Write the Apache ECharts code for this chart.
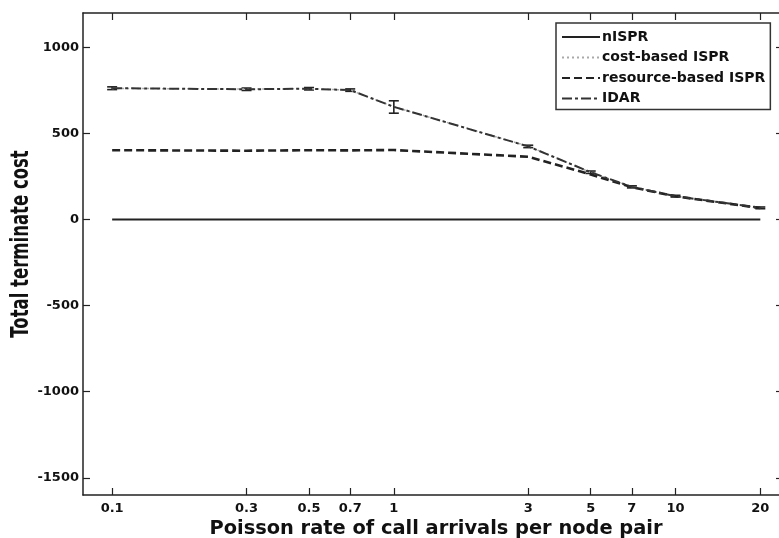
<!DOCTYPE html>
<html>
<head>
<meta charset="utf-8">
<script src="https://cdn.jsdelivr.net/npm/echarts@6/dist/echarts.min.js"></script>
<style>
  html, body { margin: 0; padding: 0; background: #fff; }
  #chart { width: 779px; height: 538px; }
</style>
</head>
<body>
<div id="chart"></div>
<script>
// Poisson arrival rates (x) and the terminate cost of each routing scheme
const rates = [0.1, 0.3, 0.5, 0.7, 1, 3, 5, 7, 10, 20];
const nISPR = [0, 0, 0, 0, 0, 0, 0, 0, 0, 0];
const costISPR = [762, 758, 760, 752, 655, 426, 274, 190, 136, 68];
const resourceISPR = [403, 400, 403, 402, 404, 365, 262, 188, 135, 67];
const idar = [763, 757, 760, 752, 655, 425, 275, 190, 136, 68];
// spread of the IDAR runs at each rate
const idarLow = [755, 750, 753, 745, 618, 418, 268, 184, 131, 63];
const idarHigh = [771, 764, 767, 759, 690, 432, 282, 196, 141, 73];

const xTicks = [0.1, 0.3, 0.5, 0.7, 1, 3, 5, 7, 10, 20];
const yTicks = [-1500, -1000, -500, 0, 500, 1000];

const font = '"DejaVu Sans", Verdana, sans-serif';
const pair = (ys) => rates.map((x, i) => [x, ys[i]]);

const chart = echarts.init(document.getElementById('chart'));

const axisLine = { show: true, onZero: false, lineStyle: { color: '#222', width: 1.5 } };
const tickStyle = { color: '#222', width: 1.2 };
const xMin = 0.0788, xMax = 23.3;

chart.setOption({
  animation: false,
  backgroundColor: '#fff',
  grid: { left: 83, top: 13, right: 0, bottom: 43, show: false, containLabel: false, outerBoundsMode: 'none' },
  // vertical axis title, widened across its stroke direction
  graphic: [{
    type: 'text',
    x: 22, y: 244,
    rotation: Math.PI / 2,
    scaleY: 1.45,
    style: {
      text: 'Total terminate cost',
      font: 'bold 16.5px ' + font,
      fill: '#111',
      align: 'center',
      verticalAlign: 'middle'
    }
  }],
  legend: {
    orient: 'vertical',
    left: 556,
    top: 23,
    backgroundColor: '#fff',
    borderColor: '#333',
    borderWidth: 1.5,
    borderRadius: 0,
    padding: [7, 5, 4, 5],
    itemWidth: 38,
    itemHeight: 14,
    itemGap: 6.5,
    itemStyle: { opacity: 0 },
    textStyle: { fontFamily: font, fontWeight: 'bold', fontSize: 14, color: '#111', padding: [0, 0, 0, -3] },
    data: ['nISPR', 'cost-based ISPR', 'resource-based ISPR', 'IDAR']
  },
  xAxis: [
    {
      type: 'log', logBase: 10, min: xMin, max: xMax,
      name: 'Poisson rate of call arrivals per node pair',
      nameLocation: 'middle', nameGap: 21,
      nameTextStyle: { fontFamily: font, fontWeight: 'bold', fontSize: 19.4, color: '#111', padding: [0, 0, 0, 10] },
      axisLine,
      axisTick: { show: true, inside: true, length: 7, lineStyle: tickStyle, customValues: xTicks },
      axisLabel: {
        show: true, customValues: xTicks, margin: 7,
        fontFamily: font, fontWeight: 'bold', fontSize: 13, color: '#111',
        formatter: (v) => String(+(+v).toFixed(1))
      },
      splitLine: { show: false },
      minorTick: { show: false }
    },
    {
      type: 'log', logBase: 10, min: xMin, max: xMax, position: 'top',
      axisLine,
      axisTick: { show: true, inside: true, length: 7, lineStyle: tickStyle, customValues: xTicks },
      axisLabel: { show: false },
      splitLine: { show: false }
    }
  ],
  yAxis: [
    {
      type: 'value', min: -1600, max: 1200,
      axisLine,
      axisTick: { show: true, inside: true, length: 7, lineStyle: tickStyle, customValues: yTicks },
      axisLabel: {
        show: true, customValues: yTicks, margin: 4,
        fontFamily: font, fontWeight: 'bold', fontSize: 13, color: '#111',
        formatter: (v) => String(v)
      },
      splitLine: { show: false }
    },
    {
      type: 'value', min: -1600, max: 1200, position: 'right',
      axisLine: { show: false },
      axisTick: { show: true, inside: true, length: 3, lineStyle: tickStyle, customValues: yTicks },
      axisLabel: { show: false },
      splitLine: { show: false }
    }
  ],
  series: [
    {
      name: 'nISPR', type: 'line', data: pair(nISPR), symbol: 'none',
      lineStyle: { color: '#222', width: 2, type: 'solid' }, itemStyle: { color: '#222' }
    },
    {
      name: 'cost-based ISPR', type: 'line', data: pair(costISPR), symbol: 'none',
      lineStyle: { color: '#aaa', width: 1.5, type: [2, 3] }, itemStyle: { color: '#aaa' }
    },
    {
      name: 'resource-based ISPR', type: 'line', data: pair(resourceISPR), symbol: 'none',
      lineStyle: { color: '#222', width: 2.6, type: [8, 4] }, itemStyle: { color: '#222' }
    },
    {
      name: 'IDAR', type: 'line', data: pair(idar), symbol: 'none',
      lineStyle: { color: '#333', width: 2, type: [10, 3, 3, 3] }, itemStyle: { color: '#333' }
    },
    {
      name: 'IDAR spread', type: 'custom',
      data: rates.map((x, i) => [x, idarLow[i], idarHigh[i]]),
      renderItem: (params, api) => {
        const lo = api.coord([api.value(0), api.value(1)]);
        const hi = api.coord([api.value(0), api.value(2)]);
        const w = 5;
        const s = { stroke: '#222', lineWidth: 1.6 };
        return {
          type: 'group',
          children: [
            { type: 'line', shape: { x1: lo[0], y1: lo[1], x2: hi[0], y2: hi[1] }, style: s },
            { type: 'line', shape: { x1: lo[0] - w, y1: lo[1], x2: lo[0] + w, y2: lo[1] }, style: s },
            { type: 'line', shape: { x1: hi[0] - w, y1: hi[1], x2: hi[0] + w, y2: hi[1] }, style: s }
          ]
        };
      },
      z: 3
    }
  ]
});
</script>
</body>
</html>
